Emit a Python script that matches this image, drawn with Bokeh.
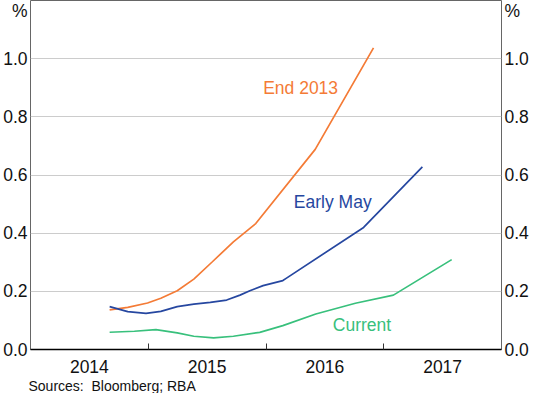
from bokeh.plotting import figure
from bokeh.models import (Range1d, FixedTicker, CustomJSTickFormatter, LinearAxis, Label, Title)
from bokeh.embed import file_html
from bokeh.resources import INLINE

FONT = "Liberation Sans"

# ---- data ----
end2013_x = [2014.672, 2014.826, 2014.994, 2015.107, 2015.246, 2015.387, 2015.540,
             2015.723, 2015.913, 2016.418, 2016.913]
end2013_y = [0.136, 0.145, 0.160, 0.176, 0.202, 0.242, 0.300, 0.370, 0.433, 0.688, 1.037]

earlymay_x = [2014.672, 2014.826, 2014.981, 2015.107, 2015.246, 2015.387, 2015.527,
              2015.666, 2015.779, 2015.863, 2015.975, 2016.143, 2016.171, 2016.829, 2017.328]
earlymay_y = [0.1475, 0.130, 0.1245, 0.131, 0.1475, 0.156, 0.162, 0.170, 0.187, 0.202,
              0.2195, 0.237, 0.2446, 0.4196, 0.628]

current_x = [2014.672, 2014.882, 2015.065, 2015.246, 2015.387, 2015.555, 2015.723,
             2015.947, 2016.143, 2016.423, 2016.759, 2017.082, 2017.577]
current_y = [0.0594, 0.0628, 0.0686, 0.057, 0.0456, 0.040, 0.0456, 0.059, 0.082,
             0.122, 0.159, 0.187, 0.309]

year_label_pos = [2014.5, 2015.5, 2016.5, 2017.5]
year_boundaries = [2015, 2016, 2017]
y_ticks = [0.0, 0.2, 0.4, 0.6, 0.8, 1.0]
unit_tick = 1.18           # position of the "%" unit label
grid_ticks = [0.2, 0.4, 0.6, 0.8, 1.0]

series_names = ["End 2013", "Early May", "Current"]
series_colors = ["#F47B36", "#2647A0", "#38C07C"]
label_x = [2016.294, 2016.567, 2016.815]
label_y = [0.898, 0.507, 0.084]

source_text = "Sources:\u00a0 Bloomberg; RBA"

# ---- figure ----
p = figure(width=531, height=393, x_range=Range1d(2014, 2018), y_range=Range1d(0, 1.2),
           output_backend="svg", toolbar_location=None,
           min_border_left=27, min_border_right=28, min_border_top=0, min_border_bottom=40)
p.background_fill_color = "white"
p.border_fill_color = "white"
p.outline_line_color = "#666666"
p.outline_line_width = 1

# x axis
xa = p.xaxis[0]
xa.ticker = FixedTicker(ticks=year_label_pos, minor_ticks=year_boundaries)
xa.formatter = CustomJSTickFormatter(code="return String(Math.floor(tick));")
xa.major_tick_in = 0
xa.major_tick_out = 0
xa.minor_tick_in = 6
xa.minor_tick_out = 0
xa.minor_tick_line_color = "#333333"
xa.minor_tick_line_width = 1
xa.axis_line_color = "black"
xa.axis_line_width = 1.5
xa.major_label_text_font = FONT
xa.major_label_text_font_size = "17.5px"
xa.major_label_text_color = "#111111"
xa.major_label_standoff = 10
p.xgrid.visible = False

# y axes (the "%" unit is drawn as the top tick label)
def style_y(ax):
    ax.ticker = FixedTicker(ticks=y_ticks + [unit_tick], minor_ticks=[])
    ax.formatter = CustomJSTickFormatter(
        code="return tick > 1.1 ? '%' : tick.toFixed(1);")
    ax.major_tick_in = 0
    ax.major_tick_out = 0
    ax.minor_tick_in = 0
    ax.minor_tick_out = 0
    ax.axis_line_color = None
    ax.major_label_text_font = FONT
    ax.major_label_text_font_size = "17.5px"
    ax.major_label_text_color = "#111111"
    ax.major_label_standoff = 3

style_y(p.yaxis[0])
ra = LinearAxis()
style_y(ra)
p.add_layout(ra, "right")

p.ygrid.ticker = FixedTicker(ticks=grid_ticks)
p.ygrid.grid_line_color = "#cccccc"
p.ygrid.grid_line_width = 1.2

# lines
for xs, ys, c in zip([end2013_x, earlymay_x, current_x],
                     [end2013_y, earlymay_y, current_y], series_colors):
    p.line(xs, ys, line_color=c, line_width=1.7)

# series labels
for name, c, lx, ly in zip(series_names, series_colors, label_x, label_y):
    p.add_layout(Label(x=lx, y=ly, text=name, text_font=FONT, text_font_size="17.5px",
                       text_color=c, text_align="center", text_baseline="middle"))

# sources note below the axis
p.add_layout(Title(text=source_text, align="left", text_font=FONT, text_font_size="14px",
                   text_font_style="normal", text_color="#111111", standoff=0, offset=-2),
             "below")

open("out.html", "w").write(file_html(p, INLINE))
